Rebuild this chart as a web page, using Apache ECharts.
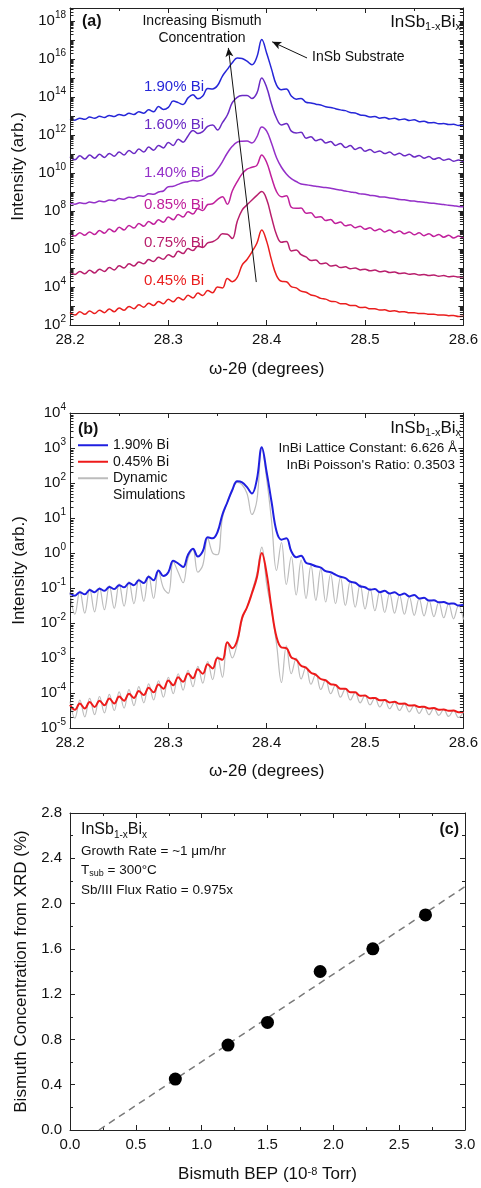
<!DOCTYPE html>
<html>
<head>
<meta charset="utf-8">
<script src="https://cdn.jsdelivr.net/npm/echarts@6/dist/echarts.min.js"></script>
<style>
  html, body { margin: 0; padding: 0; background: #fff; }
  #chart { width: 481px; height: 1188px; }
</style>
</head>
<body>
<div id="chart"></div>
<script>
// omega-2theta positions (degrees), shared by every XRD scan
var twoTheta = [28.2, 28.205, 28.21, 28.215, 28.22, 28.225, 28.23, 28.235, 28.24, 28.245,
  28.25, 28.255, 28.26, 28.265, 28.27, 28.275, 28.28, 28.285, 28.29, 28.295,
  28.3, 28.305, 28.31, 28.315, 28.32, 28.325, 28.33, 28.335, 28.34, 28.345,
  28.35, 28.355, 28.36, 28.365, 28.37, 28.375, 28.38, 28.385, 28.39, 28.395,
  28.4, 28.405, 28.41, 28.415, 28.42, 28.425, 28.43, 28.435, 28.44, 28.445,
  28.45, 28.455, 28.46, 28.465, 28.47, 28.475, 28.48, 28.485, 28.49, 28.495,
  28.5, 28.505, 28.51, 28.515, 28.52, 28.525, 28.53, 28.535, 28.54, 28.545,
  28.55, 28.555, 28.56, 28.565, 28.57, 28.575, 28.58, 28.585, 28.59, 28.595, 28.6];

// log10 intensity
var bi190 = [-1.15, -1.22, -1.12, -1.18, -1.06, -1.12, -1.02, -1.08, -0.97, -1.03,
  -0.92, -0.98, -0.86, -0.92, -0.78, -0.86, -0.68, -0.78, -0.50, -0.66,
  -0.55, -0.22, -0.30, -0.40, -0.05, 0.12, -0.10, 0.05, 0.45, 0.42,
  0.60, 1.10, 1.45, 1.80, 2.05, 2.02, 1.88, 1.70, 2.10, 3.02,
  2.30, 1.45, 0.62, 0.38, 0.42, 0.05, -0.12, -0.08, -0.28, -0.32,
  -0.38, -0.42, -0.52, -0.55, -0.62, -0.68, -0.72, -0.82, -0.85, -0.95,
  -0.98, -1.05, -1.03, -1.12, -1.08, -1.16, -1.12, -1.20, -1.16, -1.24,
  -1.20, -1.30, -1.28, -1.36, -1.35, -1.41, -1.40, -1.45, -1.44, -1.50, -1.48];
var sim190 = [-1.12, -1.75, -1.08, -1.72, -1.02, -1.68, -0.98, -1.62, -0.93, -1.58,
  -0.88, -1.52, -0.82, -1.45, -0.74, -1.38, -0.64, -1.30, -0.52, -1.00,
  -1.15, -0.25, -0.55, -0.85, -0.15, 0.10, -0.55, -0.35, 0.42, 0.00,
  -0.05, 1.00, 1.45, 1.78, 2.02, 1.95, 1.70, 1.10, 1.50, 3.00,
  2.10, 0.90, -0.50, 0.30, -0.90, -0.10, -1.20, -0.20, -1.30, -0.35,
  -1.35, -0.45, -1.40, -0.60, -1.45, -0.70, -1.50, -0.80, -1.55, -0.90,
  -1.60, -1.00, -1.65, -1.08, -1.70, -1.15, -1.72, -1.20, -1.75, -1.25,
  -1.78, -1.30, -1.80, -1.35, -1.82, -1.40, -1.85, -1.45, -1.88, -1.50, -1.90];
var bi160 = [-2.14, -2.30, -2.10, -2.26, -2.06, -2.22, -2.02, -2.18, -1.97, -2.12,
  -1.90, -2.05, -1.82, -1.98, -1.74, -1.90, -1.64, -1.80, -1.55, -1.68,
  -1.40, -1.55, -1.22, -1.38, -1.05, -0.76, -0.92, -0.82, -0.55, -0.47,
  -0.74, -0.35, 0.05, 0.70, 0.98, 1.07, 1.08, 0.92, 1.20, 2.00,
  1.50, 0.60, -0.12, -0.47, -0.40, -0.80, -0.90, -0.86, -1.17, -1.10,
  -1.30, -1.22, -1.42, -1.35, -1.55, -1.45, -1.66, -1.56, -1.76, -1.66,
  -1.86, -1.76, -1.92, -1.84, -1.98, -1.90, -2.05, -1.96, -2.10, -2.02,
  -2.16, -2.08, -2.22, -2.14, -2.28, -2.20, -2.33, -2.26, -2.38, -2.32, -2.42];
var bi140 = [-2.60, -2.64, -2.57, -2.61, -2.53, -2.57, -2.48, -2.52, -2.42, -2.46,
  -2.35, -2.38, -2.28, -2.30, -2.20, -2.22, -2.10, -2.12, -2.00, -1.95,
  -1.72, -1.70, -1.60, -1.50, -1.46, -1.40, -1.42, -1.34, -1.20, -1.10,
  -0.80, -0.40, 0.05, 0.40, 0.62, 0.67, 0.68, 0.58, 0.90, 1.42,
  1.20, 0.55, -0.20, -0.70, -1.05, -1.30, -1.45, -1.58, -1.62, -1.66,
  -1.70, -1.74, -1.77, -1.80, -1.86, -1.90, -1.95, -2.00, -2.03, -2.10,
  -2.12, -2.18, -2.20, -2.26, -2.27, -2.32, -2.34, -2.40, -2.41, -2.46,
  -2.48, -2.52, -2.54, -2.58, -2.60, -2.63, -2.66, -2.70, -2.72, -2.76, -2.78];
var bi085 = [-3.17, -3.32, -3.14, -3.28, -3.10, -3.24, -3.03, -3.17, -2.95, -3.09,
  -2.86, -3.00, -2.76, -2.90, -2.66, -2.80, -2.56, -2.70, -2.46, -2.60,
  -2.32, -2.46, -2.18, -2.32, -2.04, -2.16, -1.88, -1.98, -1.66, -1.62,
  -1.40, -1.25, -1.65, -0.95, -0.46, -0.05, 0.20, 0.30, 0.40, 0.95,
  0.55, -0.25, -0.98, -1.25, -1.20, -1.80, -1.86, -1.85, -2.12, -2.10,
  -2.34, -2.30, -2.50, -2.45, -2.66, -2.58, -2.78, -2.72, -2.88, -2.80,
  -2.96, -2.88, -3.04, -2.95, -3.10, -3.00, -3.15, -3.05, -3.20, -3.10,
  -3.25, -3.15, -3.30, -3.20, -3.34, -3.24, -3.38, -3.28, -3.42, -3.32, -3.44];
var bi075 = [-3.20, -3.34, -3.18, -3.30, -3.12, -3.26, -3.06, -3.18, -2.98, -3.10,
  -2.88, -3.00, -2.78, -2.90, -2.68, -2.78, -2.56, -2.66, -2.44, -2.54,
  -2.30, -2.42, -2.12, -2.24, -1.98, -2.08, -1.85, -1.92, -1.68, -1.62,
  -1.46, -1.20, -1.22, -1.45, -0.55, 0.05, 0.32, 0.58, 0.82, 1.02,
  0.60, -0.35, -1.25, -1.65, -1.60, -2.10, -2.05, -2.30, -2.42, -2.60,
  -2.58, -2.78, -2.74, -2.90, -2.86, -2.98, -2.94, -3.04, -3.00, -3.10,
  -3.06, -3.15, -3.11, -3.20, -3.16, -3.24, -3.21, -3.29, -3.26, -3.33,
  -3.30, -3.37, -3.34, -3.40, -3.37, -3.43, -3.40, -3.46, -3.43, -3.48, -3.46];
var bi045 = [-4.34, -4.48, -4.30, -4.44, -4.26, -4.40, -4.22, -4.35, -4.16, -4.30,
  -4.10, -4.22, -4.02, -4.14, -3.94, -4.06, -3.85, -3.98, -3.76, -3.88,
  -3.64, -3.78, -3.55, -3.68, -3.44, -3.58, -3.32, -3.45, -3.18, -3.30,
  -3.00, -3.05, -2.55, -2.72, -2.50, -1.85, -1.55, -1.15, -0.70, 0.00,
  -0.60, -1.60, -2.40, -2.70, -2.72, -2.98, -3.05, -3.22, -3.28, -3.42,
  -3.48, -3.60, -3.64, -3.75, -3.77, -3.88, -3.88, -3.98, -3.98, -4.08,
  -4.07, -4.15, -4.14, -4.21, -4.20, -4.27, -4.25, -4.31, -4.30, -4.36,
  -4.35, -4.40, -4.39, -4.44, -4.43, -4.48, -4.47, -4.51, -4.50, -4.55, -4.54];
var sim045 = [-4.25, -4.72, -4.20, -4.68, -4.15, -4.62, -4.10, -4.57, -4.04, -4.50,
  -3.97, -4.43, -3.90, -4.36, -3.82, -4.28, -3.74, -4.20, -3.65, -4.12,
  -3.55, -4.02, -3.45, -3.92, -3.35, -3.82, -3.24, -3.72, -3.10, -3.62,
  -2.95, -3.55, -2.55, -3.00, -2.60, -1.90, -1.55, -1.10, -0.60, 0.17,
  -0.90, -1.65, -2.60, -3.70, -2.65, -3.45, -3.00, -3.60, -3.25, -3.75,
  -3.45, -3.90, -3.62, -4.02, -3.77, -4.12, -3.88, -4.20, -3.98, -4.28,
  -4.07, -4.34, -4.14, -4.40, -4.20, -4.45, -4.26, -4.50, -4.31, -4.54,
  -4.35, -4.58, -4.39, -4.62, -4.43, -4.64, -4.47, -4.67, -4.50, -4.70, -4.54];

// panel (a): stacking offsets in decades
var aNames = ['1.90% Bi', '1.60% Bi', '1.40% Bi', '0.85% Bi', '0.75% Bi', '0.45% Bi'];
var aScans = [bi190, bi160, bi140, bi085, bi075, bi045];
var aShift = [14, 13, 11, 10, 8, 7];
var aColors = ['#2626d8', '#6a2ac4', '#9430c8', '#c0209c', '#b81e6c', '#ea1e1e'];

// panel (c)
var bep = [0.8, 1.2, 1.5, 1.9, 2.3, 2.7];
var biConc = [0.45, 0.75, 0.95, 1.4, 1.6, 1.9];
var fitX = [0.22, 3.0];
var fitY = [0, 2.15];

var FONT = 'Liberation Sans, Arial, sans-serif';
var AX = '#222';

function pairs(xs, ys, shift) {
  return xs.map(function (x, i) { return [x, ys[i] + (shift || 0)]; });
}

// 2..9 x 10^n positions, in decades
function minorDecades(lo, hi) {
  var out = [];
  for (var n = Math.floor(lo); n < hi; n++) {
    for (var k = 2; k <= 9; k++) {
      var v = n + Math.log10(k);
      if (v > lo && v < hi) out.push(v);
    }
  }
  return out;
}

function tickSeries(idx, xl, xr, vals) {
  return {
    type: 'custom', xAxisIndex: idx, yAxisIndex: idx, silent: true, z: 10,
    data: vals.map(function (v) { return [xl, v]; }),
    renderItem: function (params, api) {
      var a = api.coord([xl, api.value(1)]);
      var b = api.coord([xr, api.value(1)]);
      var y = Math.round(a[1]) + 0.5;
      var st = { stroke: AX, lineWidth: 1 };
      return { type: 'group', children: [
        { type: 'line', shape: { x1: a[0], y1: y, x2: a[0] + 3.5, y2: y }, style: st },
        { type: 'line', shape: { x1: b[0], y1: y, x2: b[0] - 3.5, y2: y }, style: st }
      ] };
    }
  };
}

function powLabel(v) {
  var n = Math.round(v);
  if (Math.abs(v - n) > 1e-6) return '';
  return '{a|10}{b|' + n + '}';
}
var powRich = {
  a: { fontSize: 15, fontFamily: FONT, color: '#111', lineHeight: 22 },
  b: { fontSize: 10, fontFamily: FONT, color: '#111', lineHeight: 10, verticalAlign: 'top' }
};

function xAxisPair(grid, min, max, interval, name, fmt) {
  var base = {
    gridIndex: grid, type: 'value', min: min, max: max, interval: interval,
    axisLine: { show: true, onZero: false, lineStyle: { color: AX, width: 1 } },
    axisTick: { show: true, inside: true, length: 5, lineStyle: { color: AX } },
    minorTick: { show: true, splitNumber: 2, length: 3, lineStyle: { color: AX } },
    splitLine: { show: false }
  };
  var bottom = Object.assign({}, base, {
    position: 'bottom', name: name, nameLocation: 'middle', nameGap: 36,
    nameTextStyle: { fontSize: 17, fontFamily: FONT, color: '#111',
      rich: { n: { fontSize: 17, fontFamily: FONT, color: '#111', lineHeight: 20 },
              s: { fontSize: 11, fontFamily: FONT, color: '#111', lineHeight: 11, verticalAlign: 'top' } } },
    axisLabel: { fontSize: 15, fontFamily: FONT, color: '#111', margin: 7, formatter: fmt }
  });
  var top = Object.assign({}, base, { position: 'top', axisLabel: { show: false } });
  return [bottom, top];
}

function yAxisPair(grid, min, max, interval, name, gap, fmt, rich, minor) {
  var base = {
    gridIndex: grid, type: 'value', min: min, max: max, interval: interval,
    axisLine: { show: true, onZero: false, lineStyle: { color: AX, width: 1 } },
    axisTick: { show: true, inside: true, length: 5, lineStyle: { color: AX } },
    minorTick: { show: minor, splitNumber: 2, length: 3, lineStyle: { color: AX } },
    splitLine: { show: false }
  };
  var left = Object.assign({}, base, {
    position: 'left', name: name, nameLocation: 'middle', nameGap: gap,
    nameTextStyle: { fontSize: 17, fontFamily: FONT, color: '#111' },
    axisLabel: { fontSize: 15, fontFamily: FONT, color: '#111', margin: rich ? 4 : 8,
      formatter: fmt, rich: rich }
  });
  var right = Object.assign({}, base, { position: 'right', axisLabel: { show: false } });
  return [left, right];
}

function textEl(x, y, text, opt) {
  opt = opt || {};
  return {
    type: 'text', x: x, y: y, z: 100,
    style: {
      text: text, fill: opt.color || '#111',
      font: (opt.bold ? 'bold ' : '') + (opt.size || 14) + 'px ' + FONT,
      align: opt.align || 'left', textAlign: opt.align || 'left',
      verticalAlign: 'middle', textVerticalAlign: 'middle',
      rich: opt.rich
    }
  };
}

function alloyLabel(x, y, size, align) {
  var sub = Math.round(size * 0.65);
  return textEl(x, y, '{m|InSb}{s|1-x}{m|Bi}{s|x}', {
    align: align, size: size,
    rich: {
      m: { fontSize: size, fontFamily: FONT, fill: '#111', lineHeight: size + 4 },
      s: { fontSize: sub, fontFamily: FONT, fill: '#111', lineHeight: sub, verticalAlign: 'bottom' }
    }
  });
}

var xAxes = [].concat(
  xAxisPair(0, 28.2, 28.6, 0.1, 'ω-2θ (degrees)', function (v) { return v.toFixed(1); }),
  xAxisPair(1, 28.2, 28.6, 0.1, 'ω-2θ (degrees)', function (v) { return v.toFixed(1); }),
  xAxisPair(2, 0, 3, 0.5, 'Bismuth BEP (10{s|-8} Torr)', function (v) { return v.toFixed(1); })
);
xAxes[2].nameGap = 35;

var yAxes = [].concat(
  yAxisPair(0, 2, 18.68, 1, 'Intensity (arb.)', 42, function (v) {
    var n = Math.round(v);
    return (Math.abs(v - n) < 1e-6 && n % 2 === 0) ? powLabel(v) : '';
  }, powRich, false),
  yAxisPair(1, -5, 4, 1, 'Intensity (arb.)', 42, powLabel, powRich, false),
  yAxisPair(2, 0, 2.8, 0.4, 'Bismuth Concentration from XRD (%)', 33,
    function (v) { return v.toFixed(1); }, null, true)
);

var series = [];

// panel (a)
aScans.forEach(function (scan, i) {
  series.push({
    name: 'a ' + aNames[i], type: 'line', xAxisIndex: 0, yAxisIndex: 0,
    data: pairs(twoTheta, scan, aShift[i]), symbol: 'none', smooth: 0.4,
    lineStyle: { color: aColors[i], width: 1.5 }, z: 3
  });
});
series[0].markLine = {
  silent: true, symbol: ['none', 'arrow'], symbolSize: [6, 9],
  label: { show: false },
  lineStyle: { color: '#111', width: 1, type: 'solid' },
  data: [
    [{ coord: [28.3894, 4.26] }, { coord: [28.361, 16.58] }],
    [{ coord: [28.441, 16.05] }, { coord: [28.4056, 16.9] }]
  ]
};
series.push(tickSeries(0, 28.2, 28.6, minorDecades(2, 18.68)));

// panel (b)
series.push({ name: 'Dynamic', type: 'line', xAxisIndex: 2, yAxisIndex: 2,
  data: pairs(twoTheta, sim190), symbol: 'none', smooth: 0.4,
  lineStyle: { color: '#bcbcbc', width: 1.2 }, itemStyle: { color: '#bcbcbc' }, z: 2 });
series.push({ name: 'Dynamic', type: 'line', xAxisIndex: 2, yAxisIndex: 2,
  data: pairs(twoTheta, sim045), symbol: 'none', smooth: 0.4,
  lineStyle: { color: '#bcbcbc', width: 1.2 }, itemStyle: { color: '#bcbcbc' }, z: 2 });
series.push({ name: '1.90% Bi', type: 'line', xAxisIndex: 2, yAxisIndex: 2,
  data: pairs(twoTheta, bi190), symbol: 'none', smooth: 0.4,
  lineStyle: { color: '#1f1fe0', width: 2 }, itemStyle: { color: '#1f1fe0' }, z: 3 });
series.push({ name: '0.45% Bi', type: 'line', xAxisIndex: 2, yAxisIndex: 2,
  data: pairs(twoTheta, bi045), symbol: 'none', smooth: 0.4,
  lineStyle: { color: '#ee1a1a', width: 2 }, itemStyle: { color: '#ee1a1a' }, z: 3 });
series.push(tickSeries(2, 28.2, 28.6, minorDecades(-5, 4)));

// panel (c)
series.push({ name: 'fit', type: 'line', xAxisIndex: 4, yAxisIndex: 4,
  data: pairs(fitX, fitY), symbol: 'none',
  lineStyle: { color: '#7a7a7a', width: 1.5, type: [7, 5] }, z: 2 });
series.push({ name: 'xrd', type: 'scatter', xAxisIndex: 4, yAxisIndex: 4,
  data: pairs(bep, biConc), symbol: 'circle', symbolSize: 13,
  itemStyle: { color: '#000', opacity: 1 }, z: 3 });

var graphics = [
  textEl(82, 22, '(a)', { bold: true, size: 16 }),
  textEl(202, 21, 'Increasing Bismuth', { align: 'center', size: 14 }),
  textEl(202, 38, 'Concentration', { align: 'center', size: 14 }),
  textEl(312, 57, 'InSb Substrate', { size: 14 }),
  alloyLabel(461, 22, 17, 'right'),
  textEl(78, 430, '(b)', { bold: true, size: 16 }),
  textEl(113, 495, 'Simulations', { size: 14 }),
  alloyLabel(461, 428, 17, 'right'),
  textEl(457, 448, 'InBi Lattice Constant: 6.626 Å', { align: 'right', size: 13.5 }),
  textEl(455, 465, "InBi Poisson's Ratio: 0.3503", { align: 'right', size: 13.5 }),
  alloyLabel(81, 830, 16, 'left'),
  textEl(81, 851, 'Growth Rate = ~1 μm/hr', { size: 13.5 }),
  textEl(81, 870, '{m|T}{s|sub}{m| = 300°C}', { size: 13.5, rich: {
    m: { fontSize: 13.5, fontFamily: FONT, fill: '#111', lineHeight: 17 },
    s: { fontSize: 9, fontFamily: FONT, fill: '#111', lineHeight: 9, verticalAlign: 'bottom' } } }),
  textEl(81, 890, 'Sb/III Flux Ratio = 0.975x', { size: 13.5 }),
  textEl(459, 830, '(c)', { bold: true, size: 16, align: 'right' })
];
var labelY = [87, 125, 173, 205, 243, 281];
aNames.forEach(function (n, i) {
  graphics.push(textEl(144, labelY[i], n, { size: 15, color: aColors[i] }));
});

var chart = echarts.init(document.getElementById('chart'), null, { renderer: 'canvas' });
chart.setOption({
  backgroundColor: '#fff',
  animation: false,
  textStyle: { fontFamily: FONT },
  grid: [
    { left: 70, right: 16, top: 8, height: 317 },
    { left: 70, right: 16, top: 413, height: 315 },
    { left: 70, right: 16, top: 813, height: 317 }
  ],
  legend: {
    data: ['1.90% Bi', '0.45% Bi', 'Dynamic'],
    icon: 'rect', orient: 'vertical', left: 78, top: 437, padding: 0,
    itemWidth: 30, itemHeight: 2, itemGap: 0,
    textStyle: { fontSize: 14, fontFamily: FONT, color: '#111', lineHeight: 16.5 },
    selectedMode: false
  },
  xAxis: xAxes,
  yAxis: yAxes,
  series: series,
  graphic: graphics
});
</script>
</body>
</html>
